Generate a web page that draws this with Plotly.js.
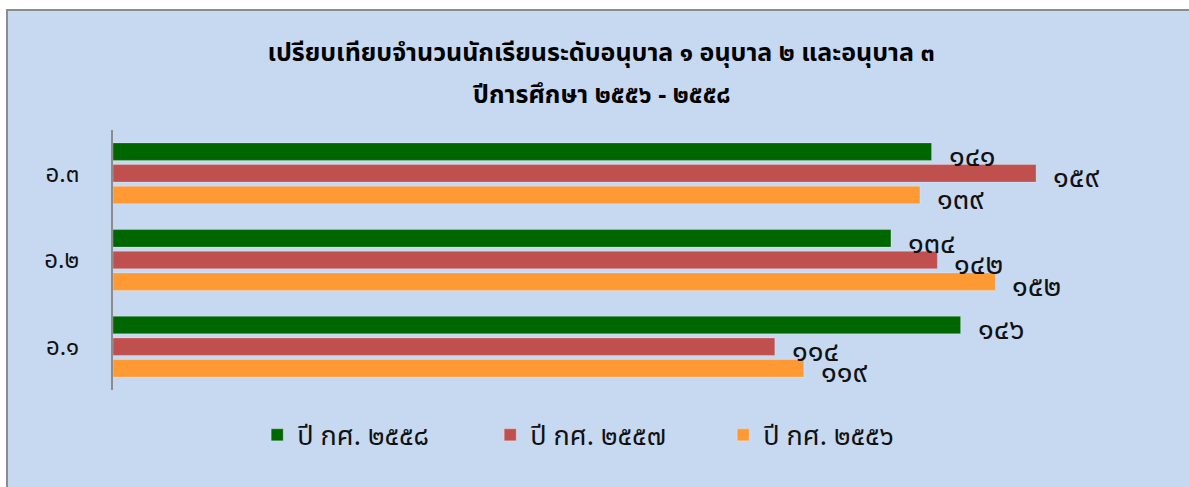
<!DOCTYPE html>
<html>
<head>
<meta charset="utf-8">
<script src="https://cdn.plot.ly/plotly-3.0.1.min.js"></script>
<style>
  html, body { margin:0; padding:0; background:#ffffff; }
  #frame { position:absolute; left:6px; top:9px; width:1183px; height:478px; background:#C6D9F1; border-top:2px solid #8c8c8c; border-left:2px solid #8c8c8c; box-sizing:border-box; }
  #chart { position:absolute; left:0; top:0; width:1189px; height:487px; }
</style>
</head>
<body>
<div id="frame"></div>
<div id="chart"></div>
<script>
// Data
const categories = ['อ.๑', 'อ.๒', 'อ.๓'];
const seriesNames = ['ปี กศ. ๒๕๕๖', 'ปี กศ. ๒๕๕๗', 'ปี กศ. ๒๕๕๘'];
const values2556 = [119, 152, 139];
const values2557 = [114, 142, 159];
const values2558 = [146, 134, 141];
const seriesColors = ['#FF9933', '#C0504D', '#006600'];
const titleLine1 = 'เปรียบเทียบจำนวนนักเรียนระดับอนุบาล ๑ อนุบาล ๒ และอนุบาล ๓';
const titleLine2 = 'ปีการศึกษา ๒๕๕๖ - ๒๕๕๘';

const thaiDigits = ['๐','๑','๒','๓','๔','๕','๖','๗','๘','๙'];
function toThai(n) { return String(n).replace(/[0-9]/g, d => thaiDigits[+d]); }

const seriesValues = [values2556, values2557, values2558];
const FONT = '"Noto Sans Thai", "Noto Sans", Tahoma, sans-serif';

const traces = seriesValues.map((vals, i) => ({
  type: 'bar',
  orientation: 'h',
  name: seriesNames[i],
  y: categories,
  x: vals,
  marker: { color: seriesColors[i], line: { color: 'rgba(255,255,255,0.25)', width: 1 } },
  hoverinfo: 'x+name'
}));

// value labels, offset per series within its group
const groupShift = [-21.5, 0, 21.5];
const annotations = [];
seriesValues.forEach((vals, i) => {
  vals.forEach((v, j) => {
    annotations.push({
      x: v, y: categories[j], xref: 'x', yref: 'y',
      text: toThai(v), showarrow: false,
      xanchor: 'left', yanchor: 'middle',
      xshift: 15, yshift: groupShift[i] - 5,
      font: { family: FONT, size: 29, color: '#111111' }
    });
  });
});
// second title line
annotations.push({
  xref: 'paper', yref: 'paper', x: 0.467, y: 1.1346,
  xanchor: 'center', yanchor: 'middle', showarrow: false,
  text: '<b>' + titleLine2 + '</b>',
  font: { family: FONT, size: 25, color: '#000000' }
});

const layout = {
  width: 1189, height: 487,
  paper_bgcolor: 'rgba(0,0,0,0)',
  plot_bgcolor: 'rgba(0,0,0,0)',
  margin: { l: 113, r: 31, t: 130, b: 97, autoexpand: false },
  barmode: 'group',
  bargap: 0.25,
  bargroupgap: 0.19,
  title: {
    text: '<b>' + titleLine1 + '</b>',
    x: 0.5055, xanchor: 'center',
    yref: 'container', y: 0.893, yanchor: 'middle',
    font: { family: FONT, size: 25, color: '#000000' }
  },
  xaxis: {
    range: [0, 180],
    showgrid: false, zeroline: false, showline: false,
    showticklabels: false, ticks: ''
  },
  yaxis: {
    type: 'category',
    categoryorder: 'array', categoryarray: categories,
    range: [-0.5, 2.5],
    showgrid: false, zeroline: false,
    showline: true, linecolor: '#8c8c8c', linewidth: 2,
    ticks: '', ticklabelstandoff: 27,
    tickfont: { family: FONT, size: 24, color: '#111111' }
  },
  showlegend: true,
  legend: {
    orientation: 'h', traceorder: 'reversed',
    x: 0.138, xanchor: 'left', y: -0.08, yanchor: 'top',
    entrywidth: 188, entrywidthmode: 'pixels',
    font: { family: FONT, size: 27, color: '#111111' },
    bgcolor: 'rgba(0,0,0,0)'
  },
  annotations: annotations
};

Plotly.newPlot('chart', traces, layout, { displayModeBar: false });
</script>
</body>
</html>
